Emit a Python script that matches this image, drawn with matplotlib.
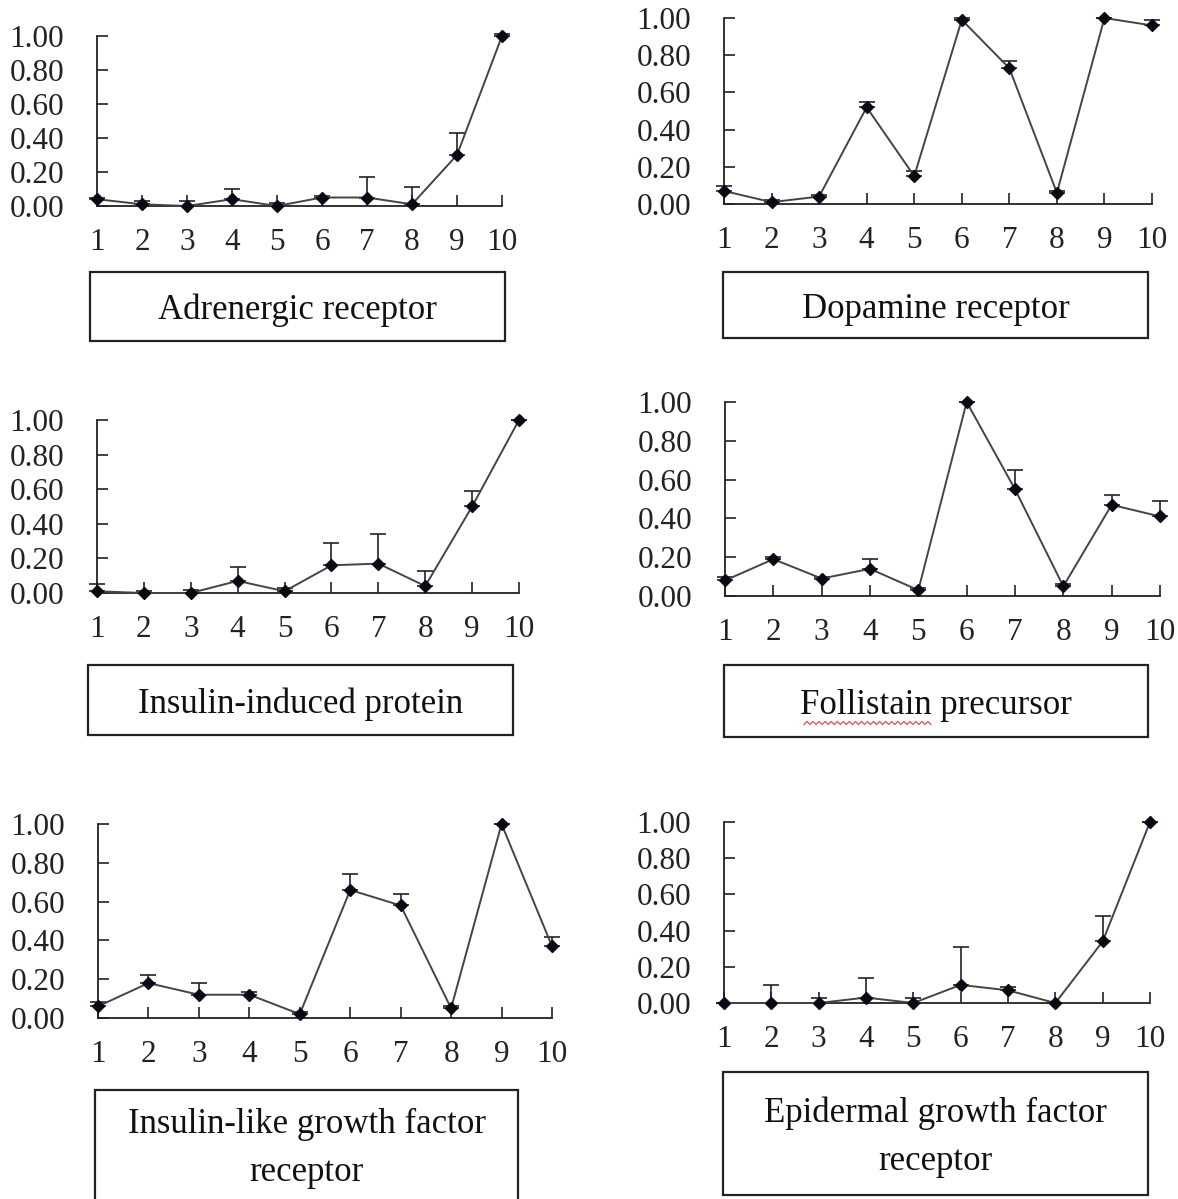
import numpy as np
import matplotlib
matplotlib.use('Agg')
import matplotlib.pyplot as plt
from matplotlib.patches import Rectangle
from matplotlib.lines import Line2D

plt.rcParams['font.family'] = ['Liberation Serif', 'DejaVu Serif']

# relative expression, 10 samples per gene
samples = [1, 2, 3, 4, 5, 6, 7, 8, 9, 10]

adrenergic = [0.04, 0.01, 0.00, 0.04, 0.00, 0.05, 0.05, 0.01, 0.30, 1.00]
adrenergic_err = [0.01, 0.02, 0.03, 0.06, 0.02, 0.01, 0.12, 0.10, 0.13, 0.01]

dopamine = [0.07, 0.01, 0.04, 0.52, 0.15, 0.99, 0.73, 0.06, 1.00, 0.96]
dopamine_err = [0.025, 0.01, 0.01, 0.03, 0.03, 0.01, 0.04, 0.01, 0.00, 0.03]

insulin_ind = [0.01, 0.00, 0.00, 0.07, 0.01, 0.16, 0.17, 0.04, 0.50, 1.00]
insulin_ind_err = [0.04, 0.01, 0.02, 0.08, 0.02, 0.13, 0.17, 0.09, 0.09, 0.00]

follistain = [0.08, 0.19, 0.09, 0.14, 0.03, 1.00, 0.55, 0.05, 0.47, 0.41]
follistain_err = [0.02, 0.01, 0.01, 0.05, 0.01, 0.00, 0.10, 0.01, 0.05, 0.08]

igf_rec = [0.06, 0.18, 0.12, 0.12, 0.02, 0.66, 0.58, 0.05, 1.00, 0.37]
igf_rec_err = [0.02, 0.04, 0.06, 0.015, 0.01, 0.08, 0.06, 0.01, 0.00, 0.045]

egf_rec = [0.00, 0.00, 0.00, 0.03, 0.00, 0.10, 0.07, 0.00, 0.34, 1.00]
egf_rec_err = [0.00, 0.10, 0.03, 0.11, 0.03, 0.21, 0.02, 0.00, 0.14, 0.00]

titles = ['Adrenergic receptor', 'Dopamine receptor', 'Insulin-induced protein',
          'Follistain precursor', 'Insulin-like growth factor\nreceptor',
          'Epidermal growth factor\nreceptor']
series = [(adrenergic, adrenergic_err), (dopamine, dopamine_err),
          (insulin_ind, insulin_ind_err), (follistain, follistain_err),
          (igf_rec, igf_rec_err), (egf_rec, egf_rec_err)]

W, H = 1178, 1199
fig = plt.figure(figsize=(W / 100, H / 100), dpi=100)

# axes boxes in pixels: left, right, top, bottom
axes_px = [(97, 502, 36, 206), (724, 1152, 18, 204),
           (97, 519, 420, 593), (725, 1160, 402, 596),
           (98, 552, 824, 1018), (724, 1150, 822, 1003)]
# label boxes in pixels: left, right, top, bottom
box_px = [(90, 505, 272, 341), (723, 1148, 272, 338),
          (88, 513, 665, 735), (724, 1148, 665, 737),
          (95, 518, 1090, 1215), (723, 1148, 1072, 1195)]

fs = 22.5
for (vals, err), title, (l, r, t, b), (bl, br, bt, bb) in zip(series, titles, axes_px, box_px):
    ax = fig.add_axes([l / W, 1 - b / H, (r - l) / W, (b - t) / H])
    vals = np.array(vals)
    err = np.array(err)
    ax.errorbar(samples, vals, yerr=[np.zeros_like(err), err], fmt='none',
                ecolor='#222222', elinewidth=1.2, capsize=6, capthick=1.2,
                clip_on=False, zorder=2)
    ax.plot(samples, vals, color='#444444', lw=1.4, zorder=3, clip_on=False)
    ax.plot(samples, vals, linestyle='none', marker='D', ms=6.5, color='#0a0a14',
            zorder=4, clip_on=False)
    ax.set_xlim(1, 10)
    ax.set_ylim(0, 1)
    ax.set_xticks(samples)
    ax.set_yticks([0, 0.2, 0.4, 0.6, 0.8, 1.0])
    ax.set_yticklabels(['%.2f' % v for v in [0, 0.2, 0.4, 0.6, 0.8, 1.0]])
    for s in ['top', 'right']:
        ax.spines[s].set_visible(False)
    for s in ['left', 'bottom']:
        ax.spines[s].set_linewidth(1.3)
        ax.spines[s].set_color('#222222')
    ax.tick_params(axis='x', direction='in', length=8, width=1.2, pad=16,
                   labelsize=fs, colors='#222222')
    ax.tick_params(axis='y', direction='in', length=8, width=1.2, pad=23.5,
                   labelsize=fs, colors='#222222')
    ax.patch.set_visible(False)

    fig.patches.append(Rectangle((bl / W, 1 - bb / H), (br - bl) / W, (bb - bt) / H,
                                 transform=fig.transFigure, fill=False,
                                 edgecolor='#222222', lw=1.6))
    cy = (bt + min(bb, H)) / 2 + 4
    fig.text((bl + br) / 2 / W, 1 - cy / H, title, ha='center', va='center',
             fontsize=25, color='#111111', linespacing=1.6)

# red spell-check squiggle under "Follistain"
wx = np.linspace(804, 931, 43)
wy = 723 + 1.5 * np.where(np.arange(43) % 2 == 0, 1, -1)
fig.lines.append(Line2D(wx / W, 1 - wy / H, transform=fig.transFigure,
                        color='#e05050', lw=0.9))

fig.savefig('out.png', dpi=100)
